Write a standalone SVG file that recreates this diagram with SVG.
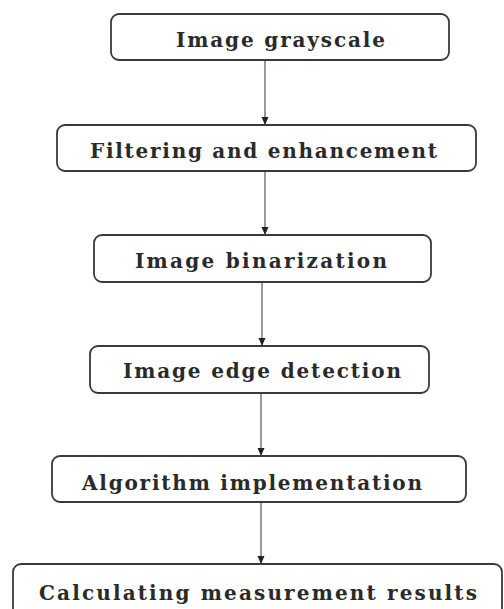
<svg xmlns="http://www.w3.org/2000/svg" width="504" height="609" viewBox="0 0 504 609">
<style>
.box{fill:#fff;stroke:#3a3a3a;stroke-width:1.8}
.lbl{font-family:"DejaVu Serif","Liberation Serif",serif;font-weight:bold;font-size:20px;fill:#2a2a2a}
.conn{stroke:#555;stroke-width:1.2;fill:none;marker-end:url(#ah)}
</style>
<defs>
<marker id="ah" markerWidth="10" markerHeight="10" refX="9" refY="5" orient="auto" markerUnits="userSpaceOnUse">
<path d="M1,1.5 L9,5 L1,8.5 z" fill="#222"/>
</marker>
</defs>
<rect width="504" height="609" fill="#fff"/>
<g id="connectors">
<line class="conn" x1="265" y1="60" x2="265" y2="125"/>
<line class="conn" x1="265" y1="171" x2="265" y2="235"/>
<line class="conn" x1="262" y1="282" x2="262" y2="346"/>
<line class="conn" x1="261" y1="393" x2="261" y2="456"/>
<line class="conn" x1="261" y1="502" x2="261" y2="564"/>
</g>
<g id="n1">
<rect class="box" x="111" y="14" width="338" height="46" rx="8"/>
<text class="lbl" x="176" y="46.5" textLength="209" lengthAdjust="spacing">Image grayscale</text>
</g>
<g id="n2">
<rect class="box" x="57" y="125" width="419" height="46" rx="8"/>
<text class="lbl" x="90" y="158" textLength="347" lengthAdjust="spacing">Filtering and enhancement</text>
</g>
<g id="n3">
<rect class="box" x="94" y="235" width="337" height="47" rx="8"/>
<text class="lbl" x="135" y="268" textLength="252" lengthAdjust="spacing">Image binarization</text>
</g>
<g id="n4">
<rect class="box" x="90" y="346" width="339" height="47" rx="8"/>
<text class="lbl" x="123" y="378" textLength="278" lengthAdjust="spacing">Image edge detection</text>
</g>
<g id="n5">
<rect class="box" x="52" y="456" width="414" height="46" rx="8"/>
<text class="lbl" x="82" y="490" textLength="340" lengthAdjust="spacing">Algorithm implementation</text>
</g>
<g id="n6">
<rect class="box" x="13" y="564" width="489" height="60" rx="8"/>
<text class="lbl" x="39" y="600" textLength="438" lengthAdjust="spacing">Calculating measurement results</text>
</g>
</svg>
